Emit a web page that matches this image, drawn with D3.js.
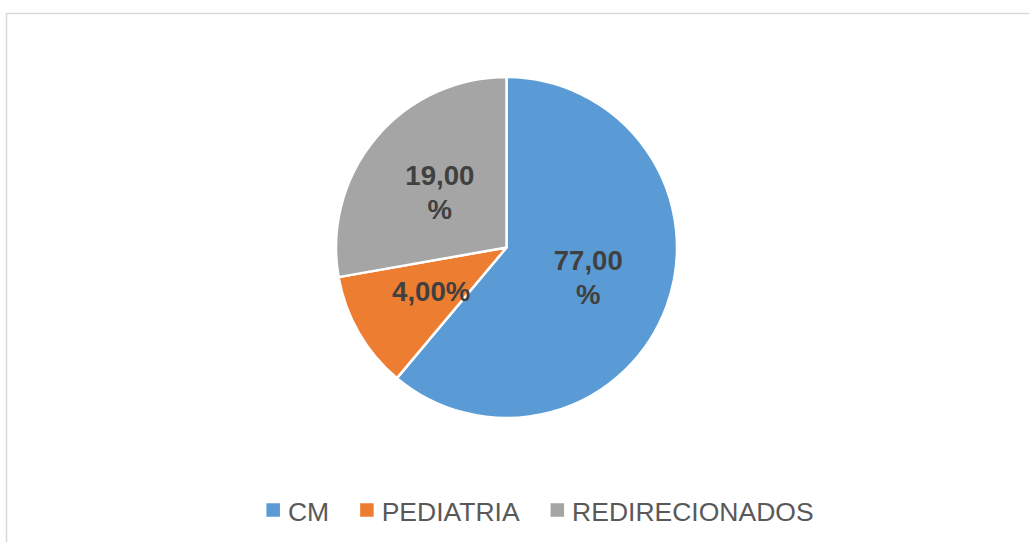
<!DOCTYPE html>
<html>
<head>
<meta charset="utf-8">
<script src="https://cdn.jsdelivr.net/npm/d3@7"></script>
<style>
  body { margin: 0; background: #fff; }
  svg { display: block; font-family: "Liberation Sans", Arial, sans-serif; }
</style>
</head>
<body>
<div id="chart"></div>
<script>
// slice data (slice sizes as drawn) and the label texts shown on them
const categories = ['CM', 'PEDIATRIA', 'REDIRECIONADOS'];
const values = [77, 14, 35];
const labelLines = [['77,00', '%'], ['4,00%'], ['19,00', '%']];
const colors = ['#5B9BD5', '#ED7D31', '#A5A5A5'];

const width = 1029, height = 542;
const cx = 506.5, cy = 247.5, radius = 170.5;

const svg = d3.select('#chart').append('svg')
  .attr('width', width)
  .attr('height', height);

// chart area frame (runs off the right and bottom of the picture)
svg.append('rect')
  .attr('x', 6.5).attr('y', 13.5)
  .attr('width', 1100).attr('height', 600)
  .attr('fill', 'none')
  .attr('stroke', '#d9d9d9')
  .attr('stroke-width', 1.5);

const color = d3.scaleOrdinal().domain(categories).range(colors);

const data = categories.map((c, i) => ({ label: c, value: values[i], lines: labelLines[i] }));

const pie = d3.pie().value(d => d.value).sort(null);
const arc = d3.arc().innerRadius(0).outerRadius(radius);
const labelArc = d3.arc().innerRadius(0).outerRadius(174);

const g = svg.append('g').attr('transform', `translate(${cx},${cy})`);

const arcs = pie(data);

g.selectAll('path')
  .data(arcs)
  .enter()
  .append('path')
  .attr('d', arc)
  .attr('fill', d => color(d.data.label))
  .attr('stroke', '#fff')
  .attr('stroke-width', 2.5)
  .attr('stroke-linejoin', 'round');

// data labels
const lineH = 34;
const labels = g.selectAll('text.lbl')
  .data(arcs)
  .enter()
  .append('text')
  .attr('class', 'lbl')
  .attr('transform', d => `translate(${labelArc.centroid(d)})`)
  .attr('text-anchor', 'middle')
  .attr('font-size', '27.6px')
  .attr('font-weight', 'bold')
  .attr('fill', '#404040');

labels.each(function (d) {
  const n = d.data.lines.length;
  d3.select(this).selectAll('tspan')
    .data(d.data.lines)
    .enter()
    .append('tspan')
    .attr('x', 0)
    .attr('y', (l, i) => (i - (n - 1) / 2) * lineH + 10)
    .text(l => l);
});

// legend
const legendFont = 26.5;
const sq = 13.5, gapText = 8, gapItem = 31;
const legend = svg.append('g');
let x = 0;
categories.forEach((c, i) => {
  const item = legend.append('g').attr('transform', `translate(${x},0)`);
  item.append('rect')
    .attr('x', 0).attr('y', -sq / 2 - 1)
    .attr('width', sq).attr('height', sq)
    .attr('fill', color(c));
  const t = item.append('text')
    .attr('x', sq + gapText)
    .attr('y', 9.5)
    .attr('font-size', legendFont + 'px')
    .attr('fill', '#595959')
    .text(c);
  x += sq + gapText + t.node().getComputedTextLength() + gapItem;
});
const legendW = x - gapItem;
legend.attr('transform', `translate(${540 - legendW / 2},511)`);
</script>
</body>
</html>
